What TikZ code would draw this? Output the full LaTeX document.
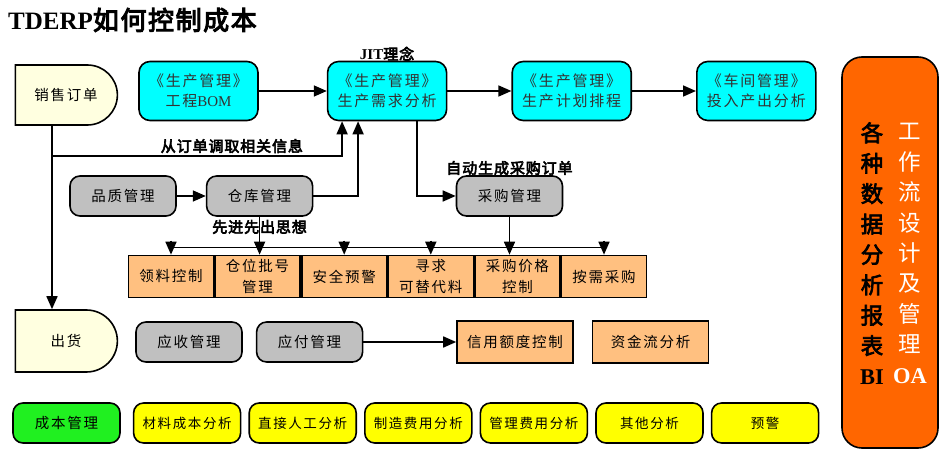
\documentclass[tikz,border=0pt]{standalone}
\usepackage{fontspec}
\setmainfont{Liberation Serif}
\newfontfamily\cjk[LetterSpace=12]{Noto Sans CJK SC}
\newfontfamily\cjkn{Noto Sans CJK SC}
\newfontfamily\cjkb[FakeBold=4,LetterSpace=6]{Noto Sans CJK SC}
\newfontfamily\cjkbn[FakeBold=3]{Noto Sans CJK SC}
\usetikzlibrary{positioning,shapes.misc,arrows.meta}

\definecolor{boxcyan}{HTML}{00FFFF}
\definecolor{boxgray}{HTML}{C0C0C0}
\definecolor{boxorange}{HTML}{FFC080}
\definecolor{boxyellow}{HTML}{FFFF00}
\definecolor{boxgreen}{HTML}{20F020}
\definecolor{boxcream}{HTML}{FFFFE0}
\definecolor{bigorange}{HTML}{FF6600}

\begin{document}
\begin{tikzpicture}[
  x=1pt, y=-1pt,
  line/.style={line width=1.6pt},
  arr/.style={line, -{Triangle[length=13pt,width=11pt]}},
  basebox/.style={draw, line width=1.6pt, inner sep=0pt, align=center,
    font=\cjk\fontsize{14.5}{21}\selectfont},
  cyanbox/.style={basebox, rectangle, rounded corners=11pt, fill=boxcyan,
    minimum width=119pt, minimum height=59pt, text=black!80,
    font=\cjk\fontsize{15}{20}\selectfont},
  graybox/.style={basebox, rectangle, rounded corners=10pt, fill=boxgray,
    minimum width=106pt, minimum height=40pt},
  orgbox/.style={basebox, rectangle, fill=boxorange,
    minimum width=85pt, minimum height=42pt},
  ylwbox/.style={basebox, rectangle, rounded corners=10pt, fill=boxyellow,
    minimum width=107pt, minimum height=40pt,
    font=\cjk\fontsize{13.5}{16}\selectfont},
  dshape/.style={basebox, rounded rectangle, rounded rectangle left arc=none,
    fill=boxcream, minimum width=102pt, minimum height=60pt},
  bigbox/.style={draw, line width=1.6pt, rectangle, rounded corners=20pt,
    fill=bigorange, minimum width=96pt, minimum height=391pt},
  boldlbl/.style={font=\cjkb\fontsize{15}{18}\selectfont, inner sep=2pt},
  coltxt/.style={align=center, inner sep=0pt,
    font=\cjkbn\fontsize{22.5}{30.4}\selectfont}
]
\useasboundingbox (0,0) rectangle (946,454);

% title
\node[anchor=west, inner sep=0pt] (title) at (8,20)
  {{\bfseries\fontsize{25}{30}\selectfont TDERP}{\cjkb\fontsize{26}{30}\selectfont 如何控制成本}};

% sales order and production chain
\node[dshape] (xs) at (66,95) {销售订单};
\node[cyanbox] (bom) at (198.5,91) {《生产管理》\\工程{\rmfamily BOM}};
\node[cyanbox, right=68pt of bom,
  label={[boldlbl, yshift=-2pt]above:{\rmfamily\bfseries JIT}理念}] (xq)
  {《生产管理》\\生产需求分析};
\node[cyanbox, right=64pt of xq] (jh) {《生产管理》\\生产计划排程};
\node[cyanbox, right=64pt of jh] (tr) {《车间管理》\\投入产出分析};

% quality, warehouse, purchasing
\node[graybox] (pz) at (123,196) {品质管理};
\node[graybox, right=29pt of pz,
  label={[boldlbl, yshift=-1pt]below:先进先出思想}] (ck) {仓库管理};
\node[graybox, label={[boldlbl, yshift=-2pt]above:自动生成采购订单}] (cg)
  at (509.5,196) {采购管理};

% control row
\node[orgbox] (b1) at (171,276.5) {领料控制};
\node[orgbox, right=0pt of b1] (b2) {仓位批号\\管理};
\node[orgbox, right=0pt of b2] (b3) {安全预警};
\node[orgbox, right=0pt of b3] (b4) {寻求\\可替代料};
\node[orgbox, right=0pt of b4] (b5) {采购价格\\控制};
\node[orgbox, right=0pt of b5] (b6) {按需采购};

% shipping and finance
\node[dshape, minimum height=62pt] (ch) at (66,341) {出货};
\node[graybox] (ys) at (189,342) {应收管理};
\node[graybox, right=13pt of ys] (yf) {应付管理};
\node[orgbox, minimum width=116pt] (xy) at (515,342) {信用额度控制};
\node[orgbox, minimum width=116pt, right=18pt of xy] (zj) {资金流分析};

% cost analysis row
\node[ylwbox, fill=boxgreen, font=\cjk\fontsize{14.5}{16}\selectfont] (cb)
  at (66.5,423) {成本管理};
\node[ylwbox, right=12pt of cb] (c1) {材料成本分析};
\node[ylwbox, right=7pt of c1] (c2) {直接人工分析};
\node[ylwbox, right=7pt of c2] (c3) {制造费用分析};
\node[ylwbox, right=7pt of c3] (c4) {管理费用分析};
\node[ylwbox, right=7pt of c4] (c5) {其他分析};
\node[ylwbox, right=7pt of c5] (c6) {预警};

% BI / OA column
\node[bigbox] (bg) at (890,252.5) {};
\node[coltxt] (bi) at ([xshift=-18pt,yshift=-1pt]bg.center)
  {各\\种\\数\\据\\分\\析\\报\\表\\{\rmfamily\bfseries BI}};
\node[coltxt, text=white, font=\cjkn\fontsize{22.5}{30.4}\selectfont] (oa)
  at ([xshift=20pt,yshift=-1pt]bg.center)
  {工\\作\\流\\设\\计\\及\\管\\理\\{\rmfamily\bfseries OA}};

% connectors
\draw[arr] (bom) -- (xq);
\draw[arr] (xq) -- (jh);
\draw[arr] (jh) -- (tr);
\draw[arr] ([xshift=-14pt]xs.south) -- ([xshift=-14pt]ch.north);
\draw[arr] ([xshift=-14pt]xs.south) ++(0,30) -| ([xshift=-45pt]xq.south)
  node[boldlbl, pos=0.31, above] {从订单调取相关信息};
\draw[arr] (pz) -- (ck);
\draw[arr] (ck.east) -| ([xshift=-29pt]xq.south);
\draw[arr] ([xshift=30pt]xq.south) |- (cg.west);

% bus to control row
\draw[line] ([yshift=7pt]b1.north) -- ([yshift=7pt]b6.north);
\foreach \b in {b1,b3,b4,b6}
  \draw[arr] ([yshift=14pt]\b.north) -- (\b.north);
\draw[arr] (ck.south) -- (ck.south |- b2.north);
\draw[arr] (cg.south) -- (cg.south |- b5.north);

\draw[arr] (yf) -- (xy);
\end{tikzpicture}
\end{document}
